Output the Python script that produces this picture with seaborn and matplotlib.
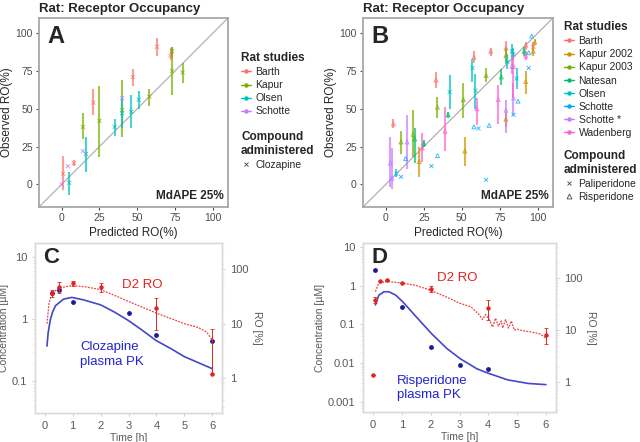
import numpy as np
import pandas as pd
import matplotlib
matplotlib.use("Agg")
import matplotlib.pyplot as plt
import seaborn as sns
from matplotlib.lines import Line2D
from matplotlib.ticker import FixedLocator, FixedFormatter, NullFormatter

# ---------------- data ----------------
# Panel A: clozapine, predicted vs observed RO (%)
A_STUDY = ["Barth"] * 6 + ["Kapur"] * 7 + ["Olsen"] * 6 + ["Schotte"] * 4
A_PRED = [1, 8, 21, 47, 63, 72,
          14, 25, 40, 58, 73, 73, 80,
          5, 16, 35, 40, 46, 51,
          0, 4, 14, 40]
A_OBS = [7, 14, 54, 71, 91, 85,
         38, 42, 49, 58, 75, 88, 74,
         1, 20, 38, 47, 48, 56,
         0, 12, 22, 57]
A_LO = [-4, 12, 46, 65, 85, 82,
        30, 18, 31, 52, 59, 84, 67,
        -7, 8, 32, 37, 37, 50,
        np.nan, np.nan, np.nan, np.nan]
A_HI = [19, 16, 63, 76, 97, 90,
        47, 65, 69, 63, 91, 91, 80,
        8, 31, 43, 58, 59, 62,
        np.nan, np.nan, np.nan, np.nan]
A_COMPOUND = ["Clozapine"] * len(A_PRED)

# Panel B: paliperidone / risperidone
B_STUDY = (["Barth"] * 7 + ["Kapur 2002"] * 6 + ["Kapur 2003"] * 6 + ["Natesan"] * 5
           + ["Olsen"] * 8 + ["Schotte"] * 13 + ["Schotte *"] * 6 + ["Wadenberg"] * 6)
B_COMPOUND = (["Risperidone"] * 6 + ["Paliperidone"]
              + ["Risperidone"] * 6 + ["Risperidone"] * 6 + ["Risperidone"] * 5
              + ["Paliperidone"] * 8
              + ["Paliperidone", "Paliperidone", "Risperidone", "Risperidone", "Risperidone",
                 "Paliperidone", "Risperidone", "Paliperidone", "Paliperidone", "Risperidone",
                 "Paliperidone", "Risperidone", "Risperidone"]
              + ["Risperidone"] * 6 + ["Risperidone"] * 6)
B_PRED = [5, 33, 58, 69, 79, 92, 97,
          22, 52, 79, 92, 97, 98,
          10, 18, 34, 51, 66, 79,
          19, 25, 41, 76, 91,
          7, 42, 57, 59, 80, 83, 84, 86,
          10, 30, 34, 13, 58, 61, 68, 66, 84, 87, 94, 94, 96,
          3, 4, 14, 79, 84, 83,
          24, 39, 60, 74, 84, 92]
B_OBS = [40, 69, 84, 88, 90, 92, 91,
         15, 22, 43, 68, 88, 94,
         28, 33, 51, 56, 72, 85,
         30, 27, 46, 71, 88,
         7, 61, 77, 62, 81, 88, 86, 70,
         5, 12, 19, 17, 38, 37, 39, 3, 46, 55, 77, 87, 98,
         14, 4, 28, 49, 57, 78,
         24, 35, 50, 56, 78, 85]
B_LO = [37, 64, 80, 85, 84, 89, 88,
        5, 12, 38, 60, 85, 92,
        20, 18, 44, 44, 68, 80,
        14, 25, 44, 66, 85,
        5, 50, 68, 50, 76, 83, 82, 63,
        *[np.nan] * 13,
        -2, -3, 10, 34, 46, 73,
        15, 22, 39, 40, 57, 82]
B_HI = [43, 74, 88, 90, 95, 94, 94,
        25, 31, 48, 75, 92, 96,
        35, 49, 58, 67, 77, 90,
        37, 29, 48, 76, 91,
        10, 72, 83, 73, 86, 93, 90, 77,
        *[np.nan] * 13,
        31, 24, 46, 56, 67, 85,
        34, 51, 57, 66, 87, 88]

# Panel C: clozapine PK (uM) and D2 RO (%)
C_LINE_T = [0.08, 0.12, 0.2, 0.28, 0.38, 0.67, 0.97, 1.38, 2.0, 2.5, 3.0, 3.5, 4.0, 4.5, 5.0, 5.5, 6.0]
C_LINE_CONC = [0.37, 0.6, 0.98, 1.3, 1.64, 2.1, 2.24, 2.05, 1.7, 1.3, 0.95, 0.66, 0.45, 0.34, 0.25, 0.2, 0.16]
C_PK_T = [0.25, 0.5, 1, 3, 4, 6]
C_PK_CONC = [2.6, 2.9, 1.9, 1.25, 0.55, 0.45]
C_RO_LINE_T = [0.08, 0.15, 0.25, 0.5, 1, 1.5, 2, 2.5, 3, 3.5, 4, 4.5, 5, 5.5, 5.8, 6]
C_RO_LINE = [10, 23, 35, 45, 50, 47, 42, 33, 25.5, 20, 15.6, 12.5, 10, 8.5, 7, 5]
C_RO_T = [0.25, 0.5, 1, 2, 4, 6]
C_RO = [36, 46, 55, 46, 19, 1.2]
C_RO_LO = [31, 36, 50, 38, 7.7, 1.2]
C_RO_HI = [42, 57, 60, 56, 30, 8]

# Panel D: risperidone PK (uM) and D2 RO (%)
D_LINE_T = [0.08, 0.2, 0.38, 0.55, 0.79, 1.03, 1.5, 2.03, 2.56, 3.03, 3.6, 3.97, 4.68, 5.39, 6.0]
D_LINE_CONC = [0.32, 0.57, 0.7, 0.7, 0.57, 0.385, 0.157, 0.058, 0.024, 0.013, 0.0072, 0.0056, 0.0037, 0.003, 0.0028]
D_PK_T = [0.08, 1, 2, 3, 4]
D_PK_CONC = [2.5, 0.29, 0.027, 0.009, 0.007]
D_RO_LINE_T = [0.08, 0.2, 0.5, 1.03, 1.5, 2.0, 2.56, 3.0, 3.4, 3.56, 3.68, 3.8, 3.9, 4.03,
               4.15, 4.25, 4.35, 4.45, 4.5, 4.6, 4.7, 4.8, 4.9, 5.0, 5.2, 5.5, 5.8, 6.0]
D_RO_LINE = [55, 80, 86, 80, 72, 58, 43, 33, 28, 23, 20, 16, 20, 16,
             11.5, 17, 12, 15, 11, 16, 11, 15, 10, 10.5, 9.8, 9.2, 8.5, 7]
D_RO_T = [0, 0.08, 0.25, 0.5, 1, 2, 4, 6]
D_RO = [1.4, 38, 86, 90, 80, 62, 27, 8]
D_RO_LO = [1.4, 33, 86, 90, 80, 55, 16, 5.5]
D_RO_HI = [1.4, 43, 86, 90, 80, 70, 38, 11]

# ---------------- style ----------------
sns.set_style("white")
plt.rcParams["font.family"] = ["Liberation Sans", "DejaVu Sans"]

PAL_A = {"Barth": "#F8766D", "Kapur": "#7CAE00", "Olsen": "#00BFC4", "Schotte": "#C77CFF"}
PAL_B = {"Barth": "#F8766D", "Kapur 2002": "#CD9600", "Kapur 2003": "#7CAE00", "Natesan": "#00BE67",
         "Olsen": "#00BFC4", "Schotte": "#00A9FF", "Schotte *": "#C77CFF", "Wadenberg": "#FF61CC"}
MARKERS = {"Clozapine": "x", "Paliperidone": "x", "Risperidone": "^"}
RED = "#E3241E"
BLUE_LINE = "#4646C8"
BLUE_PT = "#1A1A9A"

W, H = 640, 442


def box(l, t, r, b):
    return [l / W, 1 - b / H, (r - l) / W, (b - t) / H]


def ro_panel(ax, df, palette, letter):
    ax.plot([-20, 120], [-20, 120], color="#A8A8A8", lw=0.8, zorder=1)
    err = df.dropna(subset=["lo"])
    ax.vlines(err["pred"], err["lo"], err["hi"], colors=[palette[s] for s in err["study"]],
              lw=1.5, alpha=0.7, zorder=2)
    for comp, mk in MARKERS.items():
        sub = df[df["compound"] == comp]
        if sub.empty:
            continue
        n0 = len(ax.collections)
        sns.scatterplot(data=sub, x="pred", y="obs", hue="study", palette=palette, marker=mk,
                        s=8, linewidth=0.7, alpha=0.75, legend=False, ax=ax, zorder=3)
        if mk == "^":
            coll = ax.collections[n0]
            fc = coll.get_facecolors()
            coll.set_edgecolors(fc)
            coll.set_facecolors("none")
    ax.set_xlim(-15, 110)
    ax.set_ylim(-15, 110)
    ax.set_xticks([0, 25, 50, 75, 100])
    ax.set_yticks([0, 25, 50, 75, 100])
    ax.tick_params(axis="both", labelsize=7.5, labelcolor="#4D4D4D", color="#4D4D4D",
                   length=2.5, width=0.8, pad=2, left=True, bottom=True)
    for sp in ax.spines.values():
        sp.set_color("#A8A8A8")
        sp.set_linewidth(1.3)
    ax.set_xlabel("Predicted RO(%)", fontsize=8.5, labelpad=3)
    ax.set_ylabel("Observed RO(%)", fontsize=8.5, labelpad=2)
    ax.set_title("Rat: Receptor Occupancy", loc="left", fontsize=9.5, fontweight="bold", pad=4)
    ax.text(0.045, 0.965, letter, transform=ax.transAxes, fontsize=17, fontweight="bold", va="top")
    ax.text(0.98, 0.025, "MdAPE 25%", transform=ax.transAxes, fontsize=8.5, fontweight="bold",
            ha="right", va="bottom")


def legends(fig, palette, compounds, x, y1, y2):
    h1 = [Line2D([], [], color=c, marker="o", ms=2.2, lw=1.0) for c in palette.values()]
    fig.legend(h1, list(palette.keys()), title="Rat studies", loc="upper left",
               bbox_to_anchor=(x / W, 1 - y1 / H), frameon=False, fontsize=7.5,
               title_fontproperties={"weight": "bold", "size": 8.5}, alignment="left",
               handlelength=1.0, handletextpad=0.4, labelspacing=0.3, borderpad=0, borderaxespad=0)
    h2 = []
    for c in compounds:
        mk = MARKERS[c]
        if mk == "^":
            h2.append(Line2D([], [], ls="", marker=mk, ms=3.5, mfc="none", mec="#444444", mew=0.6))
        else:
            h2.append(Line2D([], [], ls="", marker=mk, ms=3.5, color="#444444", mew=0.6))
    fig.legend(h2, compounds, title="Compound\nadministered", loc="upper left",
               bbox_to_anchor=(x / W, 1 - y2 / H), frameon=False, fontsize=7.5,
               title_fontproperties={"weight": "bold", "size": 8.5}, alignment="left",
               handlelength=1.0, handletextpad=0.4, labelspacing=0.3, borderpad=0, borderaxespad=0)


def pk_panel(ax, lt, lc, pt, pc, rlt, rl, rt, ro, rlo, rhi, ylim, ryl, yticks, letter, drug, pos_ro, pos_pk):
    ax.set_yscale("log")
    sns.lineplot(x=lt, y=lc, ax=ax, color=BLUE_LINE, lw=1.2)
    ax.scatter(pt, pc, color=BLUE_PT, s=6, zorder=3)
    ax.set_xlim(-0.35, 6.35)
    ax.set_ylim(*ylim)
    ax.set_xticks(range(7))
    ax.yaxis.set_major_locator(FixedLocator(yticks))
    ax.yaxis.set_major_formatter(FixedFormatter([("%g" % v) for v in yticks]))
    ax.yaxis.set_minor_formatter(NullFormatter())
    ax.set_xlabel("Time [h]", fontsize=7.5, color="#595959", labelpad=2)
    ax.set_ylabel("Concentration [\u00b5M]", fontsize=7.5, color="#595959", labelpad=2)
    ax2 = ax.twinx()
    ax2.set_yscale("log")
    sns.lineplot(x=rlt, y=rl, ax=ax2, color=RED, lw=0.9, linestyle=(0, (1.5, 1)), alpha=0.85)
    ro = np.array(ro)
    ax2.errorbar(rt, ro, yerr=[ro - np.array(rlo), np.array(rhi) - ro], fmt="o", ms=2.2,
                 color=RED, ecolor=RED, elinewidth=0.7, capsize=1.5, capthick=0.6)
    ax2.set_ylim(*ryl)
    ax2.yaxis.set_major_locator(FixedLocator([1, 10, 100]))
    ax2.yaxis.set_major_formatter(FixedFormatter(["1", "10", "100"]))
    ax2.yaxis.set_minor_formatter(NullFormatter())
    ax2.set_ylabel("RO [%]", fontsize=7.5, color="#595959", rotation=270, labelpad=10)
    for a in (ax, ax2):
        a.tick_params(axis="both", which="major", labelsize=8, labelcolor="#595959",
                      color="#C8C8C8", length=2, width=0.6)
        a.tick_params(axis="both", which="minor", color="#D8D8D8", length=1.2, width=0.5)
        for sp in a.spines.values():
            sp.set_color("#DADADA")
            sp.set_linewidth(1.0)
    ax.tick_params(left=True, bottom=True, which="both")
    ax2.tick_params(right=True, which="both")
    ax.text(0.045, 0.975, letter, transform=ax.transAxes, fontsize=16, fontweight="bold", va="top")
    ax.text(pos_ro[0], pos_ro[1], "D2 RO", transform=ax.transAxes, fontsize=9.5, color=RED,
            ha="center", va="center")
    ax.text(pos_pk[0], pos_pk[1], drug + "\nplasma PK", transform=ax.transAxes, fontsize=9.5,
            color="#2323D2", ha="left", va="center", linespacing=1.3)


dfA = pd.DataFrame({"study": A_STUDY, "compound": A_COMPOUND, "pred": A_PRED, "obs": A_OBS,
                    "lo": A_LO, "hi": A_HI})
dfB = pd.DataFrame({"study": B_STUDY, "compound": B_COMPOUND, "pred": B_PRED, "obs": B_OBS,
                    "lo": B_LO, "hi": B_HI})

fig = plt.figure(figsize=(W / 100, H / 100), dpi=100)

axA = fig.add_axes(box(39, 18, 228, 207))
ro_panel(axA, dfA, PAL_A, "A")
legends(fig, PAL_A, ["Clozapine"], 241, 52, 131)

axB = fig.add_axes(box(363, 18, 553, 207))
ro_panel(axB, dfB, PAL_B, "B")
legends(fig, PAL_B, ["Paliperidone", "Risperidone"], 564, 21, 150)

axC = fig.add_axes(box(35, 243, 222, 413))
pk_panel(axC, C_LINE_T, C_LINE_CONC, C_PK_T, C_PK_CONC, C_RO_LINE_T, C_RO_LINE, C_RO_T, C_RO,
         C_RO_LO, C_RO_HI, (0.031, 16.8), (0.23, 301), [0.1, 1, 10], "C", "Clozapine",
         (0.572, 0.753), (0.241, 0.344))

axD = fig.add_axes(box(363, 243, 556, 412))
pk_panel(axD, D_LINE_T, D_LINE_CONC, D_PK_T, D_PK_CONC, D_RO_LINE_T, D_RO_LINE, D_RO_T, D_RO,
         D_RO_LO, D_RO_HI, (0.00055, 12.7), (0.27, 470), [0.001, 0.01, 0.1, 1, 10], "D", "Risperidone",
         (0.487, 0.793), (0.176, 0.142))

fig.savefig("out.png", dpi=100)
